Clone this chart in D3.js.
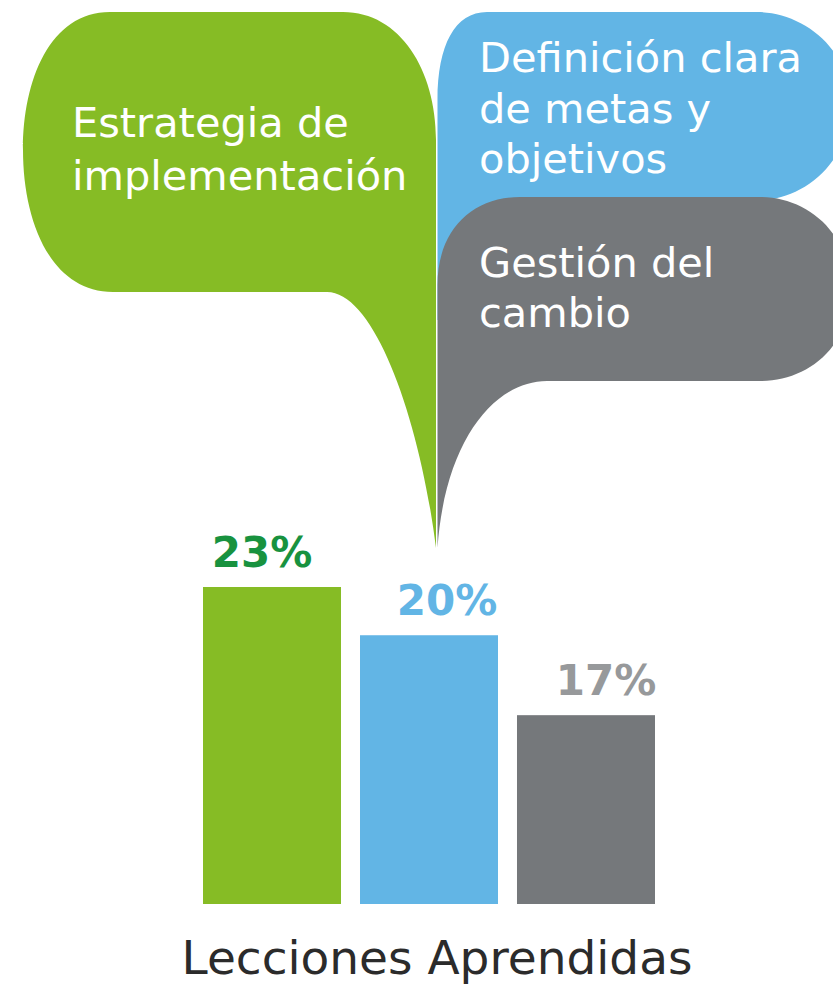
<!DOCTYPE html>
<html>
<head>
<meta charset="utf-8">
<script src="https://cdn.jsdelivr.net/npm/d3@7"></script>
<style>
  html, body { margin: 0; padding: 0; background: #fff; }
  svg { display: block; }
</style>
</head>
<body>
<script>
// data
const categories = ['Estrategia de implementación', 'Definición clara de metas y objetivos', 'Gestión del cambio']
const barValues = [23, 19.5, 13.7]          // bar heights as drawn
const barLabels = ['23%', '20%', '17%']
const barColors = ['#86BC25', '#62B5E5', '#75787B']
const labelColors = ['#18923F', '#62B5E5', '#97999B']
const bubbleLines = [
  ['Estrategia de', 'implementación'],
  ['Definición clara', 'de metas y', 'objetivos'],
  ['Gestión del', 'cambio']
]
const title = 'Lecciones Aprendidas'

const W = 833, H = 986
const FONT = '"DejaVu Sans", Verdana, sans-serif'
const LABEL_DX = [-10, 18, 20]   // labels sit a bit off-centre in the original

const svg = d3.select('body').append('svg')
    .attr('width', W)
    .attr('height', H)

// speech bubbles (decoration), drawn back to front: green, blue, grey
const bubbles = [
  // green
  'M113,292 C50,292 23,220 23,150 C23,80 50,12 110,12 L343,12 ' +
  'C400,12 436,70 436,140 L436,548 C420,420 375,292 327,292 Z',
  // blue
  'M437.5,320 L437.5,100 C437.5,45 455,12 487,12 L757,12 ' +
  'C800,12 850,45 850,105 C850,165 800,200 760,200 L600,200 L600,320 Z',
  // grey
  'M437.5,548 L437.5,285 C437.5,230 472,197 520,197 L760,197 ' +
  'C805,197 850,230 850,290 C850,350 805,381 760,381 L547,381 ' +
  'C495,381 445,440 437.5,548 Z'
]

svg.append('g').selectAll('path')
  .data(bubbles)
  .join('path')
    .attr('d', d => d)
    .attr('fill', (d, i) => barColors[i])

const bubbleText = [
  { x: 72, y: 137, lh: 53 },
  { x: 479, y: 72, lh: 50.5 },
  { x: 479, y: 277, lh: 50 }
]

bubbleLines.forEach((lines, i) => {
  const t = svg.append('text')
      .attr('x', bubbleText[i].x)
      .attr('y', bubbleText[i].y)
      .attr('fill', '#fff')
      .style('font-family', FONT)
      .style('font-size', '41.5px')
  lines.forEach((line, j) => {
    t.append('tspan')
        .attr('x', bubbleText[i].x)
        .attr('dy', j === 0 ? 0 : bubbleText[i].lh)
        .text(line)
  })
})

// bars
const x = d3.scaleBand()
    .domain(categories)
    .range([203, 655])
    .paddingInner(0.121)
    .paddingOuter(0)

const y = d3.scaleLinear()
    .domain([0, 23])
    .range([904, 587])

svg.append('g').selectAll('rect')
  .data(categories)
  .join('rect')
    .attr('x', d => x(d))
    .attr('y', (d, i) => y(barValues[i]))
    .attr('width', x.bandwidth())
    .attr('height', (d, i) => y(0) - y(barValues[i]))
    .attr('fill', (d, i) => barColors[i])

svg.append('g').selectAll('text')
  .data(categories)
  .join('text')
    .attr('x', (d, i) => x(d) + x.bandwidth() / 2 + LABEL_DX[i])
    .attr('y', (d, i) => y(barValues[i]) - 20)
    .attr('text-anchor', 'middle')
    .attr('fill', (d, i) => labelColors[i])
    .style('font-family', FONT)
    .style('font-weight', 'bold')
    .style('font-size', '42px')
    .text((d, i) => barLabels[i])

svg.append('text')
    .attr('x', 437)
    .attr('y', 974)
    .attr('text-anchor', 'middle')
    .attr('fill', '#2b2b2b')
    .style('font-family', FONT)
    .style('font-size', '47px')
    .text(title)
</script>
</body>
</html>
